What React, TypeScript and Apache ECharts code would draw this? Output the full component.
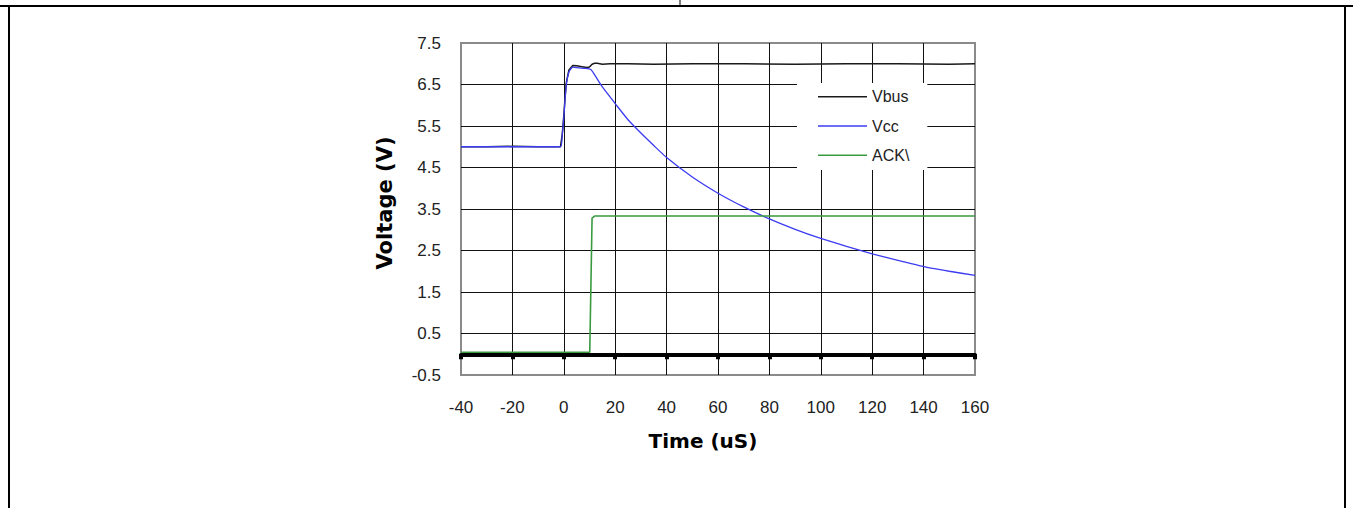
import React, { useEffect, useRef } from "react";
import * as echarts from "echarts";

// ---- data ----
const seriesNames = ["Vbus", "Vcc", "ACK\\"];

const vbusTime = [-40, -30, -20, -10, -1.3, -0.6, 0, 0.5, 1, 2, 3.5, 5, 7, 9, 10, 11, 12, 13, 15, 18, 25, 35, 50, 70, 90, 110, 130, 150, 160];
const vbusVolt = [5.0, 5.0, 5.01, 5.0, 5.0, 5.3, 5.75, 6.2, 6.55, 6.85, 6.96, 6.95, 6.93, 6.91, 6.92, 6.99, 7.01, 7.01, 6.99, 7.0, 7.0, 6.99, 7.0, 7.0, 6.99, 7.0, 7.0, 6.99, 7.0];

const vccTime = [-40, -30, -20, -10, -1.3, -0.6, 0, 0.5, 1, 2, 3.5, 6, 8, 10.5, 12, 15, 20, 25, 30, 35, 40, 50, 60, 70, 80, 90, 100, 110, 120, 130, 140, 150, 160];
const vccVolt = [5.0, 5.0, 5.0, 5.0, 5.0, 5.3, 5.7, 6.15, 6.5, 6.8, 6.92, 6.9, 6.89, 6.86, 6.73, 6.44, 6.04, 5.65, 5.33, 5.03, 4.74, 4.27, 3.88, 3.55, 3.26, 3.01, 2.79, 2.6, 2.42, 2.26, 2.11, 2.0, 1.9];

const ackTime = [-40, 10.1, 11, 12, 160];
const ackVolt = [0.05, 0.05, 3.28, 3.33, 3.33];

const xMin = -40;
const xMax = 160;
const xStep = 20;
const yMin = -0.5;
const yMax = 7.5;
const yStep = 1;

const zip = (t: number[], v: number[]) => t.map((x, i) => [x, v[i]]);

export default function App() {
  const ref = useRef<HTMLDivElement>(null);

  useEffect(() => {
    if (!ref.current) return;
    const chart = echarts.init(ref.current, null, { renderer: "svg" });
    const font = "'Liberation Sans', Arial, sans-serif";
    const gridLine = { show: true, showMinLine: false, showMaxLine: false, lineStyle: { color: "#111", width: 1 } };

    chart.setOption({
      animation: false,
      backgroundColor: "#fff",
      grid: {
        left: 461,
        right: 378,
        top: 43,
        bottom: 133,
        show: true,
        borderColor: "#8a8a8a",
        borderWidth: 2,
        backgroundColor: "#fff",
      },
      legend: {
        orient: "vertical",
        left: 797,
        top: 83,
        backgroundColor: "#fff",
        padding: [5.7, 18, 6.7, 21],
        itemGap: 13.3,
        itemWidth: 49,
        itemHeight: 1.6,
        icon: "rect",
        textStyle: { fontFamily: font, fontSize: 16, color: "#222", lineHeight: 16 },
        data: seriesNames,
      },
      xAxis: [
        {
          type: "value",
          min: xMin,
          max: xMax,
          interval: xStep,
          position: "bottom",
          axisLine: { show: false, onZero: false },
          axisTick: { show: false },
          splitLine: gridLine,
          axisLabel: { fontFamily: font, fontSize: 17, color: "#222", margin: 24 },
          name: "Time (uS)",
          nameLocation: "middle",
          nameGap: 56,
          nameTextStyle: { fontFamily: "'DejaVu Sans', sans-serif", fontWeight: "bold", fontSize: 20, color: "#000", padding: [0, 30, 0, 0] },
        },
        {
          type: "value",
          min: xMin,
          max: xMax,
          interval: xStep,
          position: "bottom",
          axisLine: { show: true, onZero: true, lineStyle: { color: "#000", width: 4 } },
          axisTick: { show: true, length: 5, lineStyle: { color: "#000", width: 4 } },
          axisLabel: { show: false },
          splitLine: { show: false },
        },
      ],
      yAxis: {
        type: "value",
        min: yMin,
        max: yMax,
        interval: yStep,
        axisLine: { show: false },
        axisTick: { show: false },
        splitLine: gridLine,
        axisLabel: { fontFamily: font, fontSize: 17, color: "#222", margin: 20, formatter: (v: number) => v.toFixed(1) },
        name: "Voltage (V)",
        nameLocation: "middle",
        nameGap: 66,
        nameTextStyle: { fontFamily: "'DejaVu Sans', sans-serif", fontWeight: "bold", fontSize: 21, color: "#000", padding: [0, 0, 0, 12] },
      },
      series: [
        {
          name: seriesNames[0],
          type: "line",
          xAxisIndex: 0,
          data: zip(vbusTime, vbusVolt),
          showSymbol: false,
          symbol: "none",
          color: "#1a1a1a",
          lineStyle: { color: "#1a1a1a", width: 1.5 },
        },
        {
          name: seriesNames[1],
          type: "line",
          xAxisIndex: 0,
          data: zip(vccTime, vccVolt),
          showSymbol: false,
          symbol: "none",
          smooth: 0.2,
          color: "#3c3cf2",
          lineStyle: { color: "#3c3cf2", width: 1.3 },
        },
        {
          name: seriesNames[2],
          type: "line",
          xAxisIndex: 0,
          data: zip(ackTime, ackVolt),
          showSymbol: false,
          symbol: "none",
          color: "#3a9a40",
          lineStyle: { color: "#3a9a40", width: 1.6 },
        },
      ],
      graphic: [
        { type: "line", shape: { x1: 0, y1: 6, x2: 1353, y2: 6 }, style: { stroke: "#000", lineWidth: 2 } },
        { type: "line", shape: { x1: 9, y1: 6, x2: 9, y2: 508 }, style: { stroke: "#000", lineWidth: 2 } },
        { type: "line", shape: { x1: 1345, y1: 6, x2: 1345, y2: 508 }, style: { stroke: "#000", lineWidth: 2 } },
        { type: "line", shape: { x1: 680, y1: 0, x2: 680, y2: 6 }, style: { stroke: "#000", lineWidth: 1 } },
      ],
    });

    return () => chart.dispose();
  }, []);

  return (
    <div
      ref={ref}
      style={{ position: "fixed", left: 0, top: 0, width: 1353, height: 508 }}
    />
  );
}
